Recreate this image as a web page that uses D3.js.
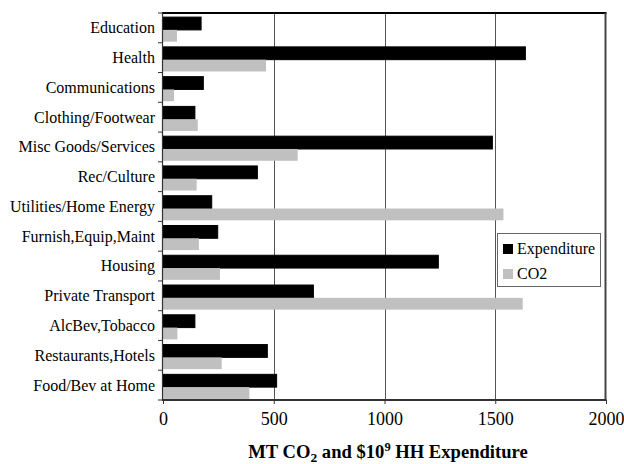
<!DOCTYPE html>
<html>
<head>
<meta charset="utf-8">
<script src="https://cdn.jsdelivr.net/npm/d3@7"></script>
<style>
  html, body { margin: 0; padding: 0; background: #fff; }
  svg { display: block; }
  text { font-family: "Liberation Serif", "Times New Roman", serif; fill: #000; }
</style>
</head>
<body>
<svg id="chart" width="624" height="464"></svg>
<script>
// Household consumption categories, top to bottom
const categories = [
  "Education", "Health", "Communications", "Clothing/Footwear",
  "Misc Goods/Services", "Rec/Culture", "Utilities/Home Energy",
  "Furnish,Equip,Maint", "Housing", "Private Transport",
  "AlcBev,Tobacco", "Restaurants,Hotels", "Food/Bev at Home"
];
// Household expenditure ($10^9)
const expenditure = [172, 1636, 182, 144, 1487, 426, 220, 247, 1243, 679, 144, 471, 513];
// CO2 emissions (MT)
const co2 = [63, 465, 50, 157, 608, 152, 1537, 162, 257, 1624, 65, 265, 390];
const seriesNames = ["Expenditure", "CO2"];
const seriesColors = ["#000000", "#c0c0c0"];
const xTicks = [0, 500, 1000, 1500, 2000];

const svg = d3.select("#chart");
const plotL = 163, plotR = 605.5, plotT = 13, plotB = 400;

const x = d3.scaleLinear().domain([0, 2000]).range([plotL, 606]);
const y = d3.scaleBand().domain(categories).range([plotT, plotB]).padding(0);
const sub = d3.scaleBand().domain(seriesNames).range([3.6, 29.2]).padding(0);

// vertical gridlines
svg.append("g").selectAll("line")
  .data(xTicks.filter(t => t > 0 && t < 2000))
  .join("line")
  .attr("x1", d => Math.round(x(d)) + 0.5).attr("x2", d => Math.round(x(d)) + 0.5)
  .attr("y1", plotT).attr("y2", plotB)
  .attr("stroke", "#555").attr("stroke-width", 1);

// bars
const rows = categories.map((c, i) => ({ cat: c, vals: [expenditure[i], co2[i]] }));
const grp = svg.append("g").selectAll("g").data(rows).join("g")
  .attr("transform", d => `translate(0,${y(d.cat)})`);
grp.selectAll("rect")
  .data(d => d.vals.map((v, j) => ({ key: seriesNames[j], v, j })))
  .join("rect")
  .attr("x", x(0))
  .attr("y", d => sub(d.key) + 0.5)
  .attr("width", d => x(d.v) - x(0))
  .attr("height", d => sub.bandwidth() - (d.j === 0 ? 0 : 1))
  .attr("fill", d => seriesColors[d.j])
  .attr("stroke", d => d.j === 0 ? "#000" : "none")
  .attr("stroke-width", 1);

// plot frame
svg.append("line").attr("x1", plotL - 1).attr("x2", plotR + 1).attr("y1", plotT).attr("y2", plotT)
  .attr("stroke", "#000").attr("stroke-width", 2);
svg.append("line").attr("x1", plotR).attr("x2", plotR).attr("y1", plotT).attr("y2", plotB)
  .attr("stroke", "#444").attr("stroke-width", 2);

// x axis
const xAxis = d3.axisBottom(x).tickValues(xTicks).tickSize(4).tickPadding(8).tickFormat(d3.format("d"));
const gx = svg.append("g").attr("transform", `translate(0,${plotB})`).call(xAxis);
gx.select(".domain").attr("stroke", "#333").attr("stroke-width", 2)
  .attr("d", `M${plotL - 1},0H${plotR + 1}`);
gx.selectAll(".tick line").attr("stroke", "#333");
gx.selectAll(".tick text").attr("font-size", 18).attr("fill", "#000")
  .style("font-family", '"Liberation Serif", serif');

// y axis with ticks on category boundaries
const gy = svg.append("g");
gy.append("line").attr("x1", plotL - 0.5).attr("x2", plotL - 0.5).attr("y1", plotT).attr("y2", plotB + 1)
  .attr("stroke", "#333").attr("stroke-width", 1.2);
gy.selectAll("line.tk").data(categories.concat(["_end"])).join("line").attr("class", "tk")
  .attr("x1", plotL - 5).attr("x2", plotL)
  .attr("y1", (d, i) => plotT + i * y.step()).attr("y2", (d, i) => plotT + i * y.step())
  .attr("stroke", "#333");
gy.selectAll("text").data(categories).join("text")
  .attr("x", 155).attr("y", d => y(d) + y.bandwidth() / 2)
  .attr("dy", "0.34em").attr("text-anchor", "end")
  .attr("font-size", 16).text(d => d);

// axis title
const title = svg.append("text").attr("x", 388).attr("y", 458)
  .attr("text-anchor", "middle").attr("font-size", 18.6).attr("font-weight", "bold");
title.append("tspan").text("MT CO");
title.append("tspan").attr("font-size", 13.5).attr("dy", 4).text("2");
title.append("tspan").attr("dy", -4).text(" and $10");
title.append("tspan").attr("font-size", 12.5).attr("dy", -7).text("9");
title.append("tspan").attr("dy", 7).text(" HH Expenditure");

// legend
const lg = svg.append("g");
lg.append("rect").attr("x", 497.5).attr("y", 233.5).attr("width", 103).attr("height", 53)
  .attr("fill", "#fff").attr("stroke", "#666").attr("stroke-width", 1);
const li = lg.selectAll("g").data(seriesNames).join("g")
  .attr("transform", (d, i) => `translate(503,${244 + i * 25})`);
li.append("rect").attr("width", 10).attr("height", 10)
  .attr("fill", (d, i) => seriesColors[i]);
li.append("text").attr("x", 14).attr("y", 9.5).attr("font-size", 16).text(d => d);
</script>
</body>
</html>
